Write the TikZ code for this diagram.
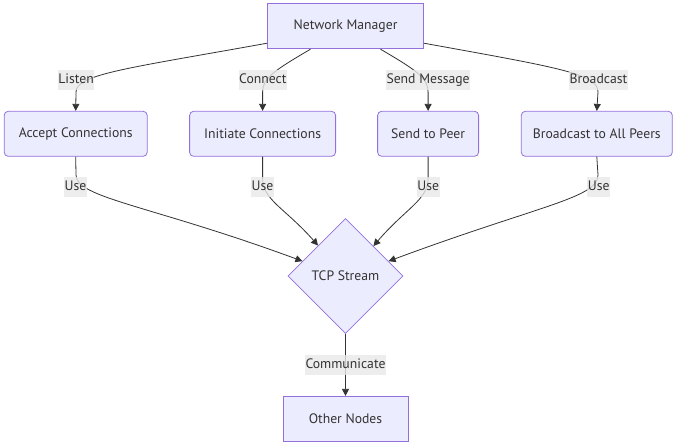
\documentclass[tikz,border=0pt]{standalone}
\usepackage{fontspec}
\setmainfont{PT Sans}
\usetikzlibrary{arrows.meta,shapes.geometric,positioning}
\definecolor{nodefill}{HTML}{ECECFF}
\definecolor{nodeline}{HTML}{9370DB}
\definecolor{linkgray}{HTML}{333333}
\definecolor{lblgray}{HTML}{E8E8E8}

\begin{document}
\begin{tikzpicture}[x=1pt,y=-1pt,font=\fontsize{13.7}{16}\selectfont,text=linkgray]
\tikzstyle{box}=[shape=rectangle,draw=nodeline,fill=nodefill,line width=0.8pt,minimum height=45pt,inner sep=0pt]
\tikzstyle{roundbox}=[box,rounded corners=4pt]
\tikzstyle{decision}=[shape=diamond,draw=nodeline,fill=nodefill,line width=0.8pt,minimum width=115pt,minimum height=115pt,inner sep=0pt]
\tikzstyle{link}=[draw=linkgray,line width=0.8pt,-{Triangle[length=7pt,width=7pt]}]
\tikzstyle{lbl}=[fill=lblgray,fill opacity=0.8,text opacity=1,inner xsep=0.5pt,inner ysep=3.5pt,text height=10pt,text depth=3pt]

\useasboundingbox (0,0) rectangle (673,445);

\node[box, minimum width=156pt] (nm) at (345.5,26.3) {Network Manager};
\node[roundbox, minimum width=143pt] (acc) at (75.7,133.8) {Accept Connections};
\node[roundbox, minimum width=146pt] (ini) at (262.6,133.8) {Initiate Connections};
\node[roundbox, minimum width=101pt] (peer) at (428.1,133.8) {Send to Peer};
\node[roundbox, minimum width=151pt] (bcast) at (596.8,133.8) {Broadcast to All Peers};
\node[decision] (tcp) at (345.5,276) {TCP Stream};
\node[box, minimum width=125pt, below=62pt of tcp] (other) {Other Nodes};

% manager to the four actions
\path[link] ([yshift=6pt]nm.south west) .. controls (130,68) and (76,74) .. (76,92) -- (acc.north);
\path[link] ([xshift=-35pt]nm.south) .. controls (275,70) and (262.6,78) .. (262.6,92) -- (ini.north);
\path[link] ([xshift=35pt]nm.south) .. controls (416,70) and (428.1,78) .. (428.1,92) -- (peer.north);
\path[link] ([yshift=6pt]nm.south east) .. controls (561,68) and (598,74) .. (598,92) -- (bcast.north);

% actions to the stream
\path[link] (acc.south) -- (76,175) .. controls (76,198) and (150,205) .. (tcp.161);
\path[link] (ini.south) -- (262.6,178) .. controls (262.6,200) and (285,208) .. (tcp.132);
\path[link] (peer.south) -- (428.1,178) .. controls (428.1,200) and (406,208) .. (tcp.47);
\path[link] (bcast.south) -- (598,175) .. controls (598,198) and (540,205) .. (tcp.19);
\path[link] (tcp.south) -- (other.north);

% edge labels
\node[lbl] (listen) at (76,80.3) {Listen};
\node[lbl] (connect) at (262.8,80.3) {Connect};
\node[lbl] (sendmsg) at (428.1,80.3) {Send Message};
\node[lbl] (broadcast) at (598.5,80.3) {Broadcast};
\node[lbl] (use1) at (75.5,187) {Use};
\node[lbl] (use2) at (262.4,187) {Use};
\node[lbl] (use3) at (428.3,187) {Use};
\node[lbl] (use4) at (598.7,187) {Use};
\node[lbl] (comm) at (345.5,365) {Communicate};
\end{tikzpicture}
\end{document}
